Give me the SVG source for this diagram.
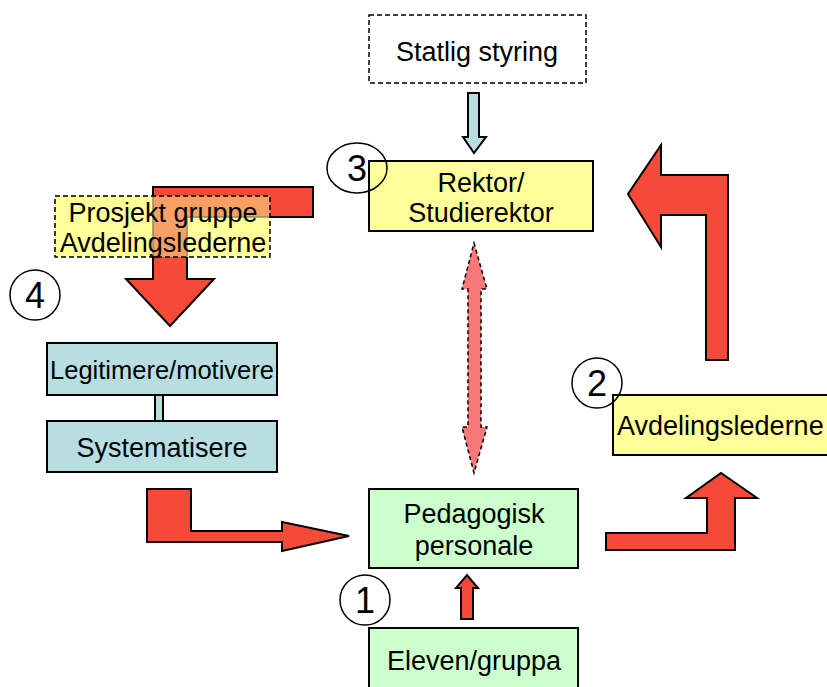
<svg xmlns="http://www.w3.org/2000/svg" width="827" height="687" viewBox="0 0 827 687">
<style>
  text { font-family: "Liberation Sans", Arial, sans-serif; font-size: 27px; fill: #000; }
  .c { text-anchor: middle; }
  .num { font-size: 36px; text-anchor: middle; }
  .yellow { fill: #FFFF99; stroke: #000; stroke-width: 2; }
  .green { fill: #CCFFCC; stroke: #000; stroke-width: 2; }
  .blue { fill: #B7DFE2; stroke: #000; stroke-width: 2; }
  .dash { stroke-dasharray: 5 3; }
  .red { fill: #F44A37; stroke: #000; stroke-width: 2; stroke-linejoin: miter; }
  .circ { fill: none; stroke: #000; stroke-width: 1.5; }
</style>
<defs>
  <clipPath id="pgclip"><rect x="55" y="196" width="215" height="61"/></clipPath>
</defs>
<rect width="827" height="687" fill="#fff"/>

<g id="connectors">
  <path class="blue" d="M468,93 L479,93 L479,137 L486,137 L474,153 L463,137 L468,137 Z"/>
  <path id="arrowPG" class="red" d="M153,187 L313,187 L313,217 L187,217 L187,279 L214,279 L170,326 L126,279 L153,279 Z"/>
  <rect class="blue" x="155" y="395" width="8" height="26"/>
  <path class="red" d="M147,489 L191,489 L191,531 L282,531 L282,522 L349,536 L282,551 L282,542 L147,542 Z"/>
  <path d="M474,243 L487,289 L481,289 L481,427 L487,427 L474,473 L462,427 L468,427 L468,289 L462,289 Z" fill="#F8787A" stroke="#000" stroke-width="1.5" stroke-dasharray="4 3"/>
  <path class="red" d="M461,619 L473,619 L473,588 L478,588 L467,575 L456,588 L461,588 Z"/>
  <path class="red" d="M606,533 L707,533 L707,498 L686,498 L721,473 L757,498 L735,498 L735,550 L606,550 Z"/>
  <path class="red" d="M706,360 L728,360 L728,175 L661,175 L661,145 L628,194 L661,247 L661,215 L706,215 Z"/>
</g>

<g id="statlig">
  <rect x="369" y="15" width="217" height="68" fill="#fff" stroke="#000" stroke-width="1.5" class="dash"/>
  <text class="c" x="477" y="61">Statlig styring</text>
</g>

<g id="rektor">
  <rect class="yellow" x="369" y="161" width="224" height="70"/>
  <text class="c" x="481" y="192">Rektor/</text>
  <text class="c" x="481" y="222">Studierektor</text>
  <ellipse class="circ" cx="357" cy="168" rx="30" ry="25"/>
  <text class="num" x="357" y="181">3</text>
</g>

<g id="prosjekt">
  <rect x="55" y="196" width="215" height="61" fill="#FFFF99"/>
  <g clip-path="url(#pgclip)">
    <path d="M153,187 L313,187 L313,217 L187,217 L187,279 L214,279 L170,326 L126,279 L153,279 Z" fill="#F9A066" stroke="#8C8C5A" stroke-width="1.5"/>
  </g>
  <rect x="55" y="196" width="215" height="61" fill="none" stroke="#000" stroke-width="1.5" class="dash"/>
  <text class="c" x="163" y="222">Prosjekt gruppe</text>
  <text class="c" x="163" y="252">Avdelingslederne</text>
</g>

<g id="num4">
  <circle class="circ" cx="35" cy="295" r="25"/>
  <text class="num" x="35" y="308">4</text>
</g>

<g id="legitimere">
  <rect class="blue" x="47" y="343" width="230" height="52"/>
  <text class="c" x="162" y="379" style="font-size:25.5px">Legitimere/motivere</text>
</g>

<g id="systematisere">
  <rect class="blue" x="47" y="421" width="230" height="51"/>
  <text class="c" x="162" y="457">Systematisere</text>
</g>

<g id="pedagogisk">
  <rect class="green" x="369" y="489" width="209" height="79"/>
  <text class="c" x="474" y="523">Pedagogisk</text>
  <text class="c" x="474" y="555">personale</text>
</g>

<g id="num1">
  <circle class="circ" cx="365" cy="600" r="25"/>
  <text class="num" x="365" y="613">1</text>
</g>

<g id="eleven">
  <rect class="green" x="369" y="628" width="209" height="70"/>
  <text class="c" x="474" y="670">Eleven/gruppa</text>
</g>

<g id="avdelingslederne">
  <rect class="yellow" x="613" y="395" width="220" height="60"/>
  <text x="617" y="435">Avdelingslederne</text>
  <circle class="circ" cx="597" cy="383" r="25"/>
  <text class="num" x="597" y="396">2</text>
</g>
</svg>
